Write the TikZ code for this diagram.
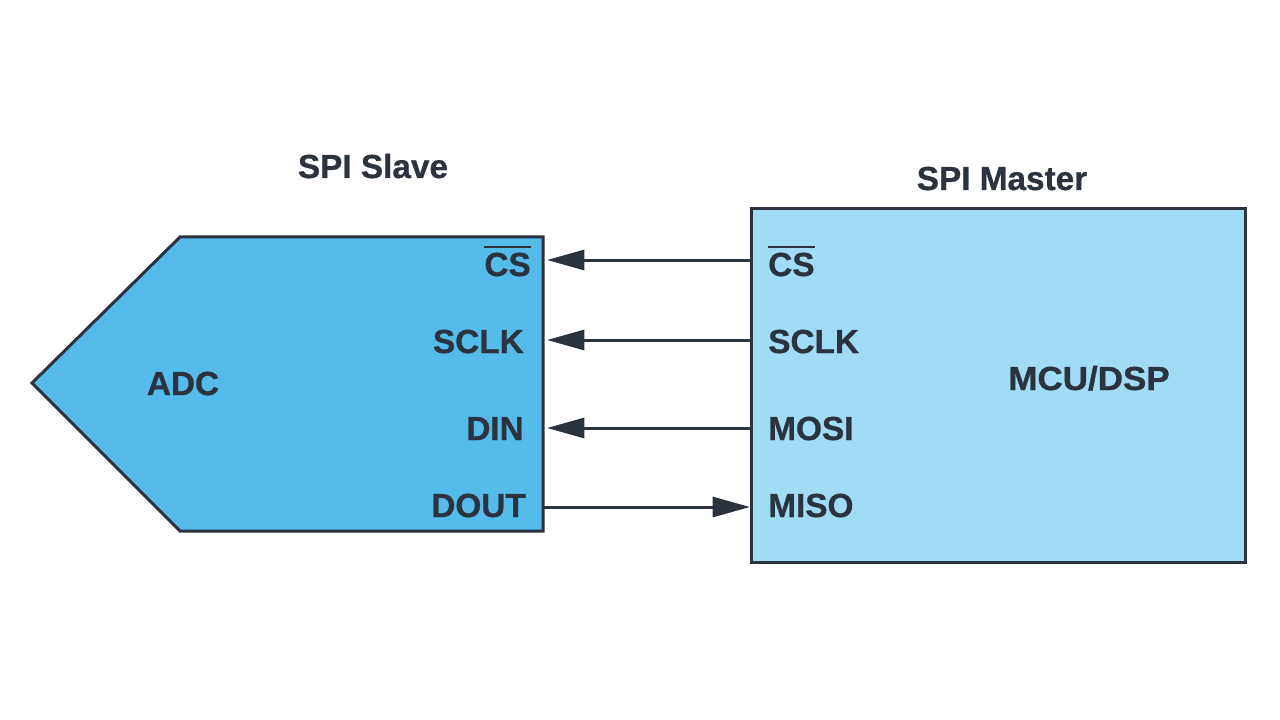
\documentclass[tikz,border=0pt]{standalone}
\usepackage{fontspec}
\setmainfont{Liberation Sans}
\newfontfamily\lblfont[FakeBold=0.8]{Liberation Sans Bold}
\usetikzlibrary{arrows.meta}
\definecolor{adcfill}{HTML}{55BBEA}
\definecolor{mstfill}{HTML}{A0DCF5}
\definecolor{ink}{HTML}{2B333E}
\newcommand\barsig[1]{\sbox0{#1}\rlap{\raisebox{21pt}{\rule{\wd0}{1.7pt}}}\usebox0}
\tikzset{
  lbl/.style={font=\lblfont\fontsize{25}{30}\selectfont, text=ink, inner sep=0pt, text height=18pt, text depth=0pt},
  title/.style={lbl},
  sig/.style={draw=ink, line width=2.25pt, -{Triangle[length=28pt,width=15pt]}},
  boxline/.style={draw=ink, line width=2.25pt, line join=miter}
}
\begin{document}
\begin{tikzpicture}[x=0.75pt,y=-0.75pt]
\useasboundingbox (0,0) rectangle (1280,720);
% ADC pentagon
\path[boxline, fill=adcfill] (180,237) coordinate (adctl) -- (543,237) coordinate (adctr) -- (543,531) coordinate (adcbr) -- (180,531) -- (32,383) -- cycle;
% Master box
\node[boxline, fill=mstfill, minimum width=494*0.75pt, minimum height=354*0.75pt, inner sep=0pt, anchor=north west] (master) at (750,207) {};
% titles
\node[title] (slavet) at (373,166) {SPI Slave};
\node[title] (mastert) at (1002,178) {SPI Master};
\node[lbl] (adc) at (183,383) {ADC};
\node[lbl, xscale=1.05] (mcu) at (1089,378) {MCU/DSP};
% slave labels
\node[lbl, anchor=east] (scs) at (531,264) {\barsig{CS}};
\node[lbl, anchor=east] (ssclk) at (524,341) {SCLK};
\node[lbl, anchor=east] (sdin) at (524,428) {DIN};
\node[lbl, anchor=east] (sdout) at (526,505) {DOUT};
% master labels
\node[lbl, anchor=west] (mcs) at (768,264) {\barsig{CS}};
\node[lbl, anchor=west] (msclk) at (768,341) {SCLK};
\node[lbl, anchor=west] (mmosi) at (768,428) {MOSI};
\node[lbl, anchor=west] (mmiso) at (768,505) {MISO};
% connectors
\coordinate (pcs) at (547,260);
\coordinate (psclk) at (547,340);
\coordinate (pdin) at (547,428);
\coordinate (pdout) at (544,507);
\draw[sig] (master.west |- pcs) -- (pcs);
\draw[sig] (master.west |- psclk) -- (psclk);
\draw[sig] (master.west |- pdin) -- (pdin);
\draw[sig] (pdout) -- (master.west |- pdout);
\end{tikzpicture}
\end{document}
